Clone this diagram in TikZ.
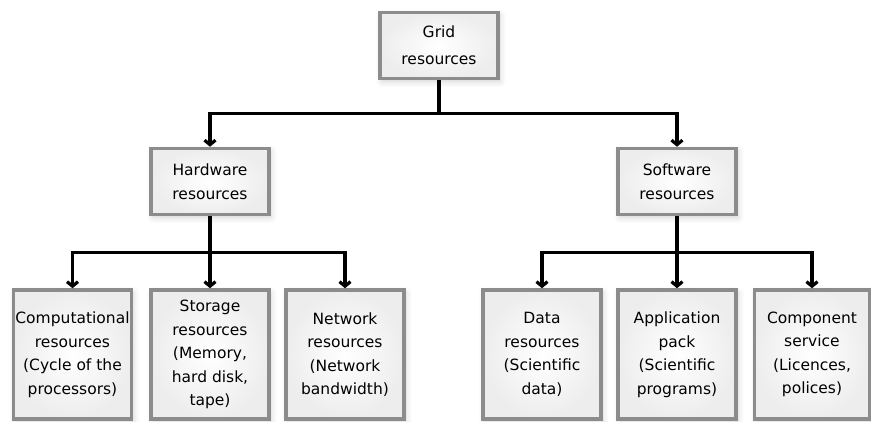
\documentclass[tikz,border=0pt]{standalone}
\usepackage{fontspec}
\setmainfont{DejaVu Sans}
\usetikzlibrary{arrows.meta,shadows.blur}
\definecolor{boxline}{HTML}{8C8C8C}
\definecolor{boxedge}{HTML}{EDEDED}
\tikzset{
	resbox/.style={draw=boxline, line width=3.5pt, inner color=white, outer color=boxedge,
		align=center, inner sep=0pt, font=\fontsize{15.5}{23.5}\selectfont,
		blur shadow={shadow xshift=2pt, shadow yshift=-3pt, shadow blur radius=6pt, shadow opacity=18}},
	topbox/.style={resbox, minimum width=118pt, minimum height=66pt},
	leafbox/.style={resbox, minimum width=118pt, minimum height=129pt},
	link/.style={line width=3.2pt, -{Straight Barb[length=4.5pt,width=11pt]}}
}

\begin{document}
\begin{tikzpicture}[x=1pt,y=1pt]
					\useasboundingbox (0,0) rectangle (871,422);

					\node[topbox, font=\fontsize{15.5}{27}\selectfont] (grid) at (439,376.5) {Grid\\resources};
					\node[topbox] (hardware) at (210,240.5) {Hardware\\resources};
					\node[topbox] (software) at (677,240.5) {Software\\resources};

					\node[leafbox] (computational) at (72.5,67.5) {Computational\\resources\\(Cycle of the\\processors)};
					\node[leafbox] (storage) at (210,67.5) {Storage\\resources\\(Memory,\\hard disk,\\tape)};
					\node[leafbox] (network) at (345,67.5) {Network\\resources\\(Network\\bandwidth)};

					\node[leafbox] (datares) at (542,67.5) {Data\\resources\\(Scientific\\data)};
					\node[leafbox] (apppack) at (677,67.5) {Application\\pack\\(Scientific\\programs)};
					\node[leafbox, minimum width=115pt] (component) at (812,67.5) {Component\\service\\(Licences,\\polices)};

					\draw[link] (grid.south) -- ++(0,-33) -| (hardware.north);
					\draw[link] (grid.south) -- ++(0,-33) -| (software.north);

					\draw[link] (hardware.south) -- ++(0,-36) -| (computational.north);
					\draw[link] (hardware.south) -- (storage.north);
					\draw[link] (hardware.south) -- ++(0,-36) -| (network.north);

					\draw[link] (software.south) -- ++(0,-36) -| (datares.north);
					\draw[link] (software.south) -- (apppack.north);
					\draw[link] (software.south) -- ++(0,-36) -| (component.north);

\end{tikzpicture}
\end{document}
